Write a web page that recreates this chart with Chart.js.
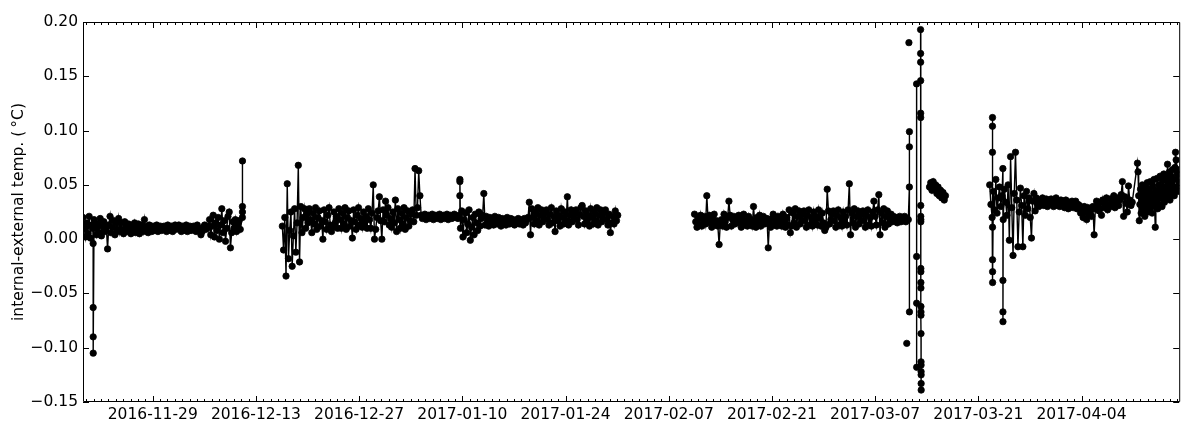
<!DOCTYPE html>
<html>
<head>
<meta charset="utf-8">
<script src="https://cdn.jsdelivr.net/npm/chart.js@4.4.1/dist/chart.umd.min.js"></script>
<style>
  html, body { margin: 0; padding: 0; background: #fff; }
  #chart { display: block; }
</style>
</head>
<body>
<canvas id="chart" width="1184" height="422"></canvas>
<script>
// regular readings, one array per stretch of logging
const bandStarts = ["2016-11-19T13:00", "2016-12-16T14:00", "2017-02-10T12:00",
                    "2017-03-14T09:00", "2017-03-22T13:00", "2017-04-11T14:00"];
const bandStepHours = [4, 4, 4, 4, 4, 2];

const band1 = [0.020, 0.010, 0.002, 0.015, 0.005, 0.021, 0.001, 0.013, 0.010,
  0.018, 0.010, 0.004, 0.014, 0.006, 0.019, 0.003, 0.012, 0.016, 0.007, 0.011,
  -0.009,
  0.013, 0.021, 0.006, 0.011, 0.017, 0.004, 0.015, 0.009, 0.019, 0.007,
  0.015, 0.009, 0.005, 0.016, 0.012, 0.007, 0.014, 0.010, 0.005, 0.013, 0.008, 0.015,
  0.006, 0.011, 0.014, 0.005, 0.010, 0.013, 0.007, 0.018, 0.008, 0.012, 0.006,
  0.013, 0.010, 0.007, 0.012, 0.008, 0.011, 0.013, 0.007, 0.010, 0.012, 0.008, 0.011,
  0.012, 0.009, 0.007, 0.013, 0.010, 0.008, 0.012, 0.007, 0.011, 0.013, 0.009, 0.010,
  0.013, 0.010, 0.007, 0.012, 0.008, 0.011, 0.013, 0.007, 0.010, 0.012, 0.008, 0.011,
  0.012, 0.009, 0.007, 0.013, 0.010, 0.008, 0.004, 0.007, 0.011, 0.013, 0.009, 0.010,
  0.012,
  0.018, 0.004, 0.012, 0.022, 0.002, 0.015, 0.008, 0.020, 0.000, 0.013, 0.028, 0.006,
  0.017, -0.002, 0.010, 0.021, 0.025, -0.008,
  0.006, 0.016, 0.010, 0.018, 0.007, 0.013, 0.017, 0.009];

const band2 = [0.012, -0.010, 0.020, -0.034, 0.051, -0.018, 0.008, 0.025, -0.025, 0.003,
  0.028, -0.012, 0.015, 0.068, -0.021,
  0.030, 0.006, 0.020, 0.028, 0.010, 0.024, 0.015,
  0.028, 0.018, 0.006, 0.024, 0.014, 0.029, 0.009, 0.020, 0.026, 0.012, 0.017, 0.000,
  0.027, 0.016, 0.009, 0.022, 0.029, 0.013, 0.007, 0.011, 0.025, 0.015, 0.021, 0.010,
  0.028, 0.018, 0.010, 0.024, 0.014, 0.029, 0.009, 0.020, 0.026, 0.012, 0.017, 0.001,
  0.027, 0.016, 0.009, 0.022, 0.029, 0.013, 0.019, 0.011, 0.025, 0.015, 0.021, 0.010,
  0.028, 0.018, 0.010, 0.024, 0.050, 0.000, 0.009, 0.020, 0.026, 0.039, 0.017, 0.000,
  0.027, 0.016, 0.035, 0.022, 0.029, 0.013, 0.019, 0.011, 0.025, 0.015, 0.036, 0.007,
  0.028, 0.018, 0.010, 0.024, 0.014, 0.029, 0.009, 0.020, 0.026, 0.012, 0.017, 0.023,
  0.027, 0.016, 0.065, 0.022, 0.029,
  0.063, 0.040,
  0.022, 0.019, 0.021, 0.023, 0.018, 0.020, 0.022, 0.019, 0.021, 0.023, 0.018, 0.020,
  0.022, 0.019, 0.021, 0.023, 0.018, 0.020, 0.022, 0.019, 0.021, 0.023, 0.018, 0.020,
  0.022, 0.019, 0.021, 0.023, 0.020,
  0.021, 0.019, 0.022,
  0.010, 0.026, 0.002, 0.018, 0.024, 0.006, 0.014, 0.027, -0.001, 0.011, 0.020, 0.004,
  0.023, 0.015, 0.008, 0.025, 0.012, 0.019, 0.022,
  0.042,
  0.013, 0.021, 0.016, 0.012, 0.020, 0.015, 0.019, 0.013, 0.021, 0.017, 0.014, 0.020,
  0.016, 0.012, 0.019, 0.015, 0.018, 0.013, 0.020, 0.016, 0.014, 0.019, 0.015, 0.018,
  0.013, 0.017, 0.015, 0.019, 0.014, 0.018, 0.016, 0.013, 0.019, 0.015, 0.018,
  0.020, 0.034, 0.004,
  0.028, 0.020, 0.014, 0.025, 0.017, 0.029, 0.013, 0.022, 0.027, 0.016, 0.019, 0.024,
  0.027, 0.018, 0.013, 0.023, 0.029, 0.015, 0.021, 0.007, 0.026, 0.017, 0.022, 0.012,
  0.028, 0.020, 0.014, 0.025, 0.017, 0.039, 0.013, 0.022, 0.027, 0.016, 0.019, 0.024,
  0.027, 0.018, 0.013, 0.023, 0.029, 0.031, 0.021, 0.014, 0.026, 0.017, 0.022, 0.012,
  0.028, 0.020, 0.014, 0.025, 0.017, 0.029, 0.013, 0.022, 0.027, 0.016, 0.019, 0.024,
  0.027, 0.018, 0.013, 0.023, 0.006, 0.015, 0.021, 0.014, 0.026, 0.017, 0.022];

const band3 = [0.023, 0.016, 0.011, 0.020, 0.013, 0.022, 0.012, 0.018, 0.021, 0.014, 0.040, 0.019,
  0.022, 0.015, 0.011, 0.019, 0.023, 0.013, 0.017, 0.012, -0.005, 0.015, 0.018, 0.012,
  0.023, 0.016, 0.011, 0.020, 0.035, 0.022, 0.012, 0.018, 0.021, 0.014, 0.017, 0.019,
  0.022, 0.015, 0.011, 0.019, 0.023, 0.013, 0.017, 0.012, 0.021, 0.015, 0.018, 0.012,
  0.030, 0.016, 0.011, 0.020, 0.013, 0.022, 0.012, 0.018, 0.021, 0.014, 0.017, 0.019,
  -0.008, 0.015, 0.011, 0.019, 0.023, 0.013, 0.017, 0.012, 0.021, 0.015, 0.018, 0.012,
  0.023, 0.016, 0.011, 0.020, 0.013,
  0.027, 0.006, 0.012, 0.024, 0.015, 0.028, 0.011, 0.021, 0.026, 0.014, 0.018, 0.023,
  0.026, 0.017, 0.011, 0.022, 0.027, 0.013, 0.020, 0.012, 0.025, 0.016, 0.021, 0.013,
  0.027, 0.019, 0.012, 0.024, 0.015, 0.008, 0.011, 0.046, 0.026, 0.014, 0.018, 0.023,
  0.026, 0.017, 0.011, 0.022, 0.027, 0.013, 0.020, 0.012, 0.025, 0.016, 0.021, 0.013,
  0.027, 0.051, 0.004, 0.024, 0.015, 0.028, 0.011, 0.021, 0.026, 0.014, 0.018, 0.023,
  0.026, 0.017, 0.011, 0.022, 0.027, 0.013, 0.020, 0.012, 0.025, 0.035, 0.021, 0.013,
  0.027, 0.041, 0.004, 0.024, 0.015, 0.028, 0.011, 0.021, 0.026, 0.014, 0.018, 0.023,
  0.016, 0.021, 0.017, 0.020, 0.015, 0.019, 0.021, 0.016, 0.020, 0.017, 0.021, 0.016,
  0.019, 0.018];

const band4 = [0.048, 0.052, 0.045, 0.053, 0.047, 0.050, 0.042, 0.048, 0.040, 0.045,
  0.038, 0.043, 0.036, 0.040];

const band5 = [0.050, 0.032, 0.020, 0.044, 0.027, 0.055, 0.024, 0.038, 0.048, 0.030, 0.040, 0.018,
  0.046, 0.034, 0.022, 0.050, -0.001, 0.076, 0.029, -0.015, 0.042, 0.080, 0.036, -0.007,
  0.025, 0.047, 0.031, -0.007, 0.040, 0.022, 0.044, 0.028, 0.038, 0.020, 0.001, 0.035,
  0.042, 0.026,
  0.038, 0.033, 0.030, 0.036, 0.032, 0.038, 0.031, 0.035, 0.037, 0.030, 0.034, 0.036,
  0.037, 0.032, 0.030, 0.035, 0.038, 0.031, 0.034, 0.030, 0.036, 0.032, 0.035, 0.029,
  0.036, 0.031, 0.028, 0.034, 0.030, 0.035, 0.029, 0.033, 0.035, 0.028, 0.032,
  0.031, 0.024, 0.028, 0.020, 0.030, 0.025, 0.018, 0.029, 0.023, 0.027, 0.021, 0.030,
  0.004,
  0.028, 0.035, 0.030, 0.026, 0.034, 0.022, 0.036, 0.029, 0.033, 0.038, 0.027, 0.032,
  0.037, 0.030, 0.035, 0.040, 0.029, 0.034, 0.038, 0.031, 0.036, 0.041, 0.053, 0.021,
  0.039, 0.033, 0.025, 0.049, 0.036, 0.031, 0.034];

const band6 = [0.070, 0.062, 0.040, 0.017, 0.032, 0.046, 0.024, 0.038, 0.050, 0.028,
  0.043, 0.034, 0.021, 0.048, 0.030, 0.040, 0.052, 0.025, 0.036, 0.046,
  0.029, 0.053, 0.033, 0.042, 0.024, 0.049, 0.037, 0.055, 0.030, 0.011,
  0.045, 0.034, 0.056, 0.028, 0.041, 0.050, 0.032, 0.058, 0.038, 0.046,
  0.030, 0.054, 0.040, 0.060, 0.034, 0.048, 0.057, 0.037, 0.044, 0.069,
  0.039, 0.052, 0.062, 0.036, 0.049, 0.058, 0.041, 0.064, 0.045, 0.055,
  0.040, 0.066, 0.080, 0.073, 0.048, 0.060, 0.044, 0.064, 0.052];

// short bursts of readings a few minutes apart (null = logger gap)
const burstTimes = ["2016-11-20T22:00", "2016-12-11T04:00", "2017-01-09T16:00",
  "2017-03-11T15:30", "2017-03-12T15:00", "2017-03-13T04:00",
  "2017-03-22T22:00", "2017-03-24T08:00"];
const burstStepMinutes = 5;
const bursts = [
  [-0.004, -0.063, -0.090, -0.105],
  [0.020, 0.025, 0.030, 0.072],
  [0.040, 0.053, 0.055],
  [0.048, 0.085, 0.099, -0.067, null],
  [0.143, -0.016, -0.059, -0.118, null],
  [0.193, 0.171, 0.163, 0.146, 0.116, 0.112, 0.031, 0.021, 0.018, 0.016,
   -0.027, -0.030, -0.040, -0.045, -0.062, -0.067, -0.070, -0.087, -0.113, -0.116,
   -0.122, -0.125, -0.133, -0.139, null],
  [0.080, 0.104, 0.112, 0.011, -0.019, -0.030, -0.040],
  [0.065, -0.038, -0.067, -0.076]
];

// lone readings with no neighbours
const strayTimes = ["2017-03-11T07:00", "2017-03-11T14:00"];
const strayValues = [-0.096, 0.181];

const xTickDates = ["2016-11-29", "2016-12-13", "2016-12-27", "2017-01-10", "2017-01-24",
  "2017-02-07", "2017-02-21", "2017-03-07", "2017-03-21", "2017-04-04"];
const yTickValues = [-0.15, -0.10, -0.05, 0.00, 0.05, 0.10, 0.15, 0.20];

const HOUR = 3600000;
const DAY = 24 * HOUR;
const toTime = s => Date.parse(s + ":00Z");

const points = [];
[band1, band2, band3, band4, band5, band6].forEach((vals, k) => {
  const t0 = toTime(bandStarts[k]);
  vals.forEach((v, i) => points.push({ x: t0 + i * bandStepHours[k] * HOUR, y: v }));
});
burstTimes.forEach((s, k) => {
  const t0 = toTime(s);
  bursts[k].forEach((v, i) => points.push({ x: t0 + i * burstStepMinutes * 60000, y: v }));
});
points.sort((a, b) => a.x - b.x);

// break the line where the logger was off for more than a day and a half
const lineData = [];
points.forEach((p, i) => {
  if (i > 0 && p.x - points[i - 1].x > 1.5 * DAY) {
    lineData.push({ x: (p.x + points[i - 1].x) / 2, y: null });
  }
  lineData.push(p);
});
const strayData = strayTimes.map((s, i) => ({ x: toTime(s), y: strayValues[i] }));

const xMin = points[0].x;
const xMax = points[points.length - 1].x;
const xTicks = xTickDates.map(s => Date.parse(s + "T00:00:00Z"));

const tickFont = { family: "'DejaVu Sans', sans-serif", size: 15.5 };

// matplotlib-like frame with inward ticks on all four sides
const frameTicks = {
  id: "frameTicks",
  afterDatasetsDraw(chart) {
    const { ctx, chartArea: a, scales: { x, y } } = chart;
    ctx.save();
    ctx.strokeStyle = "#000";
    ctx.lineWidth = 1;
    ctx.beginPath();
    ctx.rect(a.left + 0.5, a.top + 0.5, a.right - a.left, a.bottom - a.top - 1);
    for (let t = Math.ceil(xMin / DAY) * DAY; t <= xMax; t += DAY) {
      const px = Math.round(x.getPixelForValue(t)) + 0.5;
      ctx.moveTo(px, a.bottom); ctx.lineTo(px, a.bottom - 3);
      ctx.moveTo(px, a.top); ctx.lineTo(px, a.top + 3);
    }
    xTicks.forEach(t => {
      const px = Math.round(x.getPixelForValue(t)) + 0.5;
      ctx.moveTo(px, a.bottom); ctx.lineTo(px, a.bottom - 6);
      ctx.moveTo(px, a.top); ctx.lineTo(px, a.top + 6);
    });
    yTickValues.forEach(v => {
      const py = Math.round(y.getPixelForValue(v)) + 0.5;
      ctx.moveTo(a.left, py); ctx.lineTo(a.left + 6, py);
      ctx.moveTo(a.right, py); ctx.lineTo(a.right - 6, py);
    });
    ctx.stroke();
    ctx.restore();
  }
};

new Chart(document.getElementById("chart"), {
  type: "line",
  data: {
    datasets: [
      {
        data: lineData,
        borderColor: "#000",
        borderWidth: 1.4,
        pointRadius: 3.2,
        pointBorderWidth: 0.8,
        pointBackgroundColor: "#000",
        pointBorderColor: "#000",
        spanGaps: false,
        tension: 0
      },
      {
        data: strayData,
        showLine: false,
        pointRadius: 3.2,
        pointBorderWidth: 0.8,
        pointBackgroundColor: "#000",
        pointBorderColor: "#000"
      }
    ]
  },
  options: {
    responsive: false,
    animation: false,
    devicePixelRatio: 1,
    layout: { padding: { top: 22, right: 0, bottom: 0, left: 0 } },
    plugins: {
      legend: { display: false },
      tooltip: { enabled: false }
    },
    scales: {
      x: {
        type: "linear",
        min: xMin,
        max: xMax,
        grid: { display: false, drawTicks: false },
        border: { display: false },
        afterBuildTicks: axis => { axis.ticks = xTicks.map(v => ({ value: v })); },
        afterFit: axis => { axis.height = 20; },
        ticks: {
          autoSkip: false,
          maxRotation: 0,
          minRotation: 0,
          padding: 4,
          color: "#000",
          font: tickFont,
          callback: v => new Date(v).toISOString().slice(0, 10)
        }
      },
      y: {
        min: -0.15,
        max: 0.20,
        grid: { display: false, drawTicks: false },
        border: { display: false },
        afterBuildTicks: axis => { axis.ticks = yTickValues.map(v => ({ value: v })); },
        afterFit: axis => { axis.width = 83; },
        ticks: {
          padding: 5,
          color: "#000",
          font: tickFont,
          callback: v => v.toFixed(2).replace("-", "\u2212")
        },
        title: {
          display: true,
          text: "internal-external temp. (\u2009\u00b0C)",
          color: "#000",
          font: tickFont,
          padding: { top: 10, bottom: 0 }
        }
      }
    }
  },
  plugins: [frameTicks]
});
</script>
</body>
</html>
